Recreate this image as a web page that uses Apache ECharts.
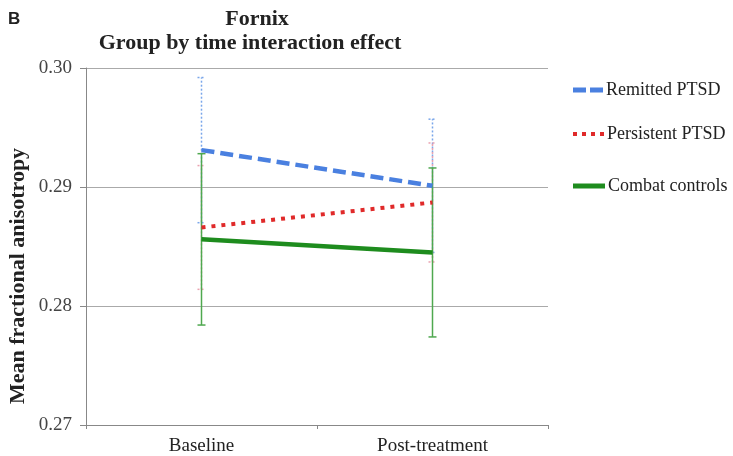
<!DOCTYPE html>
<html>
<head>
<meta charset="utf-8">
<script src="https://cdn.jsdelivr.net/npm/echarts@6/dist/echarts.min.js"></script>
<style>html,body{margin:0;padding:0;background:#fff;}#c{width:733px;height:456px;}</style>
</head>
<body>
<div id="c"></div>
<script>
const categories = ['Baseline', 'Post-treatment'];
const seriesNames = ['Remitted PTSD', 'Persistent PTSD', 'Combat controls'];
const remitted = [0.2931, 0.2901];
const remittedErr = [0.0061, 0.0056];
const persistent = [0.2866, 0.2887];
const persistentErr = [0.0052, 0.0050];
const combat = [0.2856, 0.2845];
const combatErr = [0.0072, 0.0071];
const yMin = 0.27, yMax = 0.30, yStep = 0.01;

const serif = '"Liberation Serif", "DejaVu Serif", serif';
const chart = echarts.init(document.getElementById('c'), null, {renderer: 'canvas'});

function errData(vals, errs) {
  return vals.map((v, i) => [i, v - errs[i], v + errs[i]]);
}
function errSeries(name, vals, errs, color, type) {
  return {
    type: 'custom', name: name + ' err', silent: true, z: 2,
    data: errData(vals, errs),
    renderItem: function (params, api) {
      const x = api.value(0);
      const lo = api.coord([x, api.value(1)]);
      const hi = api.coord([x, api.value(2)]);
      const cap = 4;
      const st = {stroke: color, lineWidth: 1.5, lineDash: type === 'solid' ? null : [2, 2]};
      return {type: 'group', children: [
        {type: 'line', shape: {x1: lo[0], y1: lo[1], x2: hi[0], y2: hi[1]}, style: st},
        {type: 'line', shape: {x1: lo[0] - cap, y1: lo[1], x2: lo[0] + cap, y2: lo[1]}, style: st},
        {type: 'line', shape: {x1: hi[0] - cap, y1: hi[1], x2: hi[0] + cap, y2: hi[1]}, style: st}
      ]};
    }
  };
}
const legendIcons = [
  {icon: 'path://M0,0h13v5h-13z M17,0h13v5h-13z', w: 30, h: 5},
  {icon: 'path://M0,0h4v4h-4z M9,0h4v4h-4z M18,0h4v4h-4z M27,0h4v4h-4z', w: 31, h: 4},
  {icon: 'path://M0,0h32v5h-32z', w: 32, h: 5}
];
function legendAt(i, top) {
  return {
    data: [{name: seriesNames[i], icon: legendIcons[i].icon}],
    left: 568, top: top, orient: 'vertical',
    itemWidth: legendIcons[i].w, itemHeight: legendIcons[i].h,
    selectedMode: false,
    textStyle: {fontFamily: serif, fontSize: 18, color: '#222', padding: [0, 0, 0, -2]}
  };
}

chart.setOption({
  animation: false,
  backgroundColor: '#fff',
  graphic: [
    {type: 'text', left: 8, top: 11, style: {text: 'B', font: 'bold 17px "Liberation Sans", Arial, sans-serif', fill: '#222'}},
    {type: 'text', x: 257, y: 19, style: {text: 'Fornix', textAlign: 'center', textVerticalAlign: 'middle', font: 'bold 22px ' + serif, fill: '#222'}},
    {type: 'text', x: 250, y: 43, style: {text: 'Group by time interaction effect', textAlign: 'center', textVerticalAlign: 'middle', font: 'bold 22px ' + serif, fill: '#222'}},
    {type: 'text', x: 18, y: 276, rotation: Math.PI / 2, style: {text: 'Mean fractional anisotropy', textAlign: 'center', textVerticalAlign: 'middle', font: 'bold 22px ' + serif, fill: '#222'}}
  ],
  legend: [
    legendAt(0, 76),
    legendAt(1, 120),
    legendAt(2, 172)
  ],
  grid: {left: 86, right: 185, top: 68, bottom: 31, containLabel: false},
  xAxis: {
    type: 'category', data: categories, boundaryGap: true,
    axisLine: {lineStyle: {color: '#888', width: 1}},
    axisTick: {show: true, length: 4, lineStyle: {color: '#888'}},
    axisLabel: {fontFamily: serif, fontSize: 19, color: '#222', margin: 12}
  },
  yAxis: {
    type: 'value', min: yMin, max: yMax, interval: yStep,
    axisLine: {show: true, lineStyle: {color: '#888', width: 1}},
    axisTick: {show: true, length: 6, lineStyle: {color: '#888'}},
    axisLabel: {fontFamily: serif, fontSize: 19, color: '#444', margin: 14, formatter: v => v.toFixed(2)},
    splitLine: {show: true, lineStyle: {color: '#aaa', width: 1}}
  },
  series: [
    errSeries(seriesNames[0], remitted, remittedErr, '#7aa6ea', 'dotted'),
    errSeries(seriesNames[1], persistent, persistentErr, '#eaa2b0', 'dotted'),
    errSeries(seriesNames[2], combat, combatErr, '#4fa84f', 'solid'),
    {type: 'line', name: seriesNames[0], data: remitted, symbol: 'none', z: 5,
     itemStyle: {color: '#4a80e0'}, lineStyle: {color: '#4a80e0', width: 4.5, type: [13, 6]}},
    {type: 'line', name: seriesNames[1], data: persistent, symbol: 'none', z: 5,
     itemStyle: {color: '#e02a2a'}, lineStyle: {color: '#e02a2a', width: 4, type: [4, 6]}},
    {type: 'line', name: seriesNames[2], data: combat, symbol: 'none', z: 5,
     itemStyle: {color: '#1e8c1e'}, lineStyle: {color: '#1e8c1e', width: 4.5, type: 'solid'}}
  ]
});
</script>
</body>
</html>
